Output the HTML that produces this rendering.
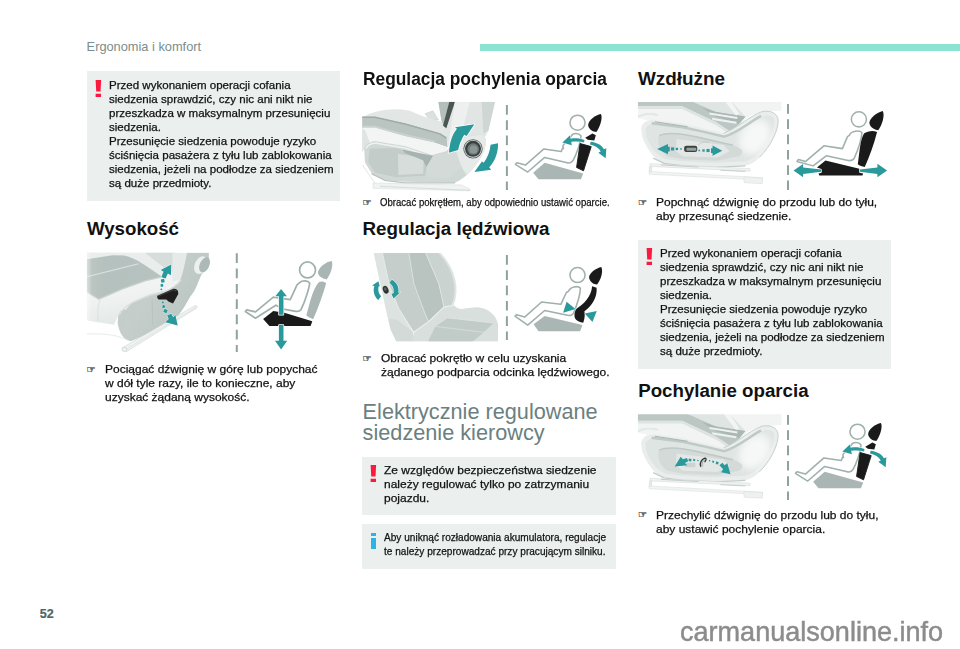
<!DOCTYPE html>
<html lang="pl"><head><meta charset="utf-8"><title>Ergonomia i komfort</title>
<style>
html,body{margin:0;padding:0;background:#fff;}
body{width:960px;height:649px;position:relative;overflow:hidden;font-family:"Liberation Sans",sans-serif;color:#111;}
.abs{position:absolute;}
.bar{left:480px;top:44px;width:480px;height:6.5px;background:#8ae4d1;}
.box{background:#ebefee;}
.t{white-space:nowrap;color:#111;}
.s{-webkit-text-stroke:0.25px currentColor;}
.h2{font-weight:bold;color:#111;}
.h1{color:#6a8080;}
.ex{color:#fb1a3e;font-weight:bold;font-size:24px;line-height:24px;transform-origin:0 0;transform:scaleX(1.6);}
.hand{font-family:"DejaVu Sans",sans-serif;font-size:10.3px;line-height:12px;color:#444;-webkit-text-stroke:0.3px #444;}
.inf i{position:absolute;left:0;top:0;width:5px;height:3.4px;background:#2db4e6;}
.inf b{position:absolute;left:0;top:5.2px;width:5px;height:11.3px;background:#2db4e6;}
</style></head><body>
<div class="abs t " style="left:86.6px;top:39.86px;font-size:12.8px;line-height:14px;color:#7b8d8d;">Ergonomia i komfort</div>
<div class="abs bar"></div>
<div class="abs box" style="left:87px;top:71px;width:253px;height:129.5px;"></div>
<div class="abs ex" style="left:91.9px;top:76.6px;">!</div>
<div class="abs t  s" style="left:108.7px;top:78.07px;font-size:11.053px;line-height:14.0px;transform:scaleX(1.045);transform-origin:0 0;">Przed wykonaniem operacji cofania<br>siedzenia sprawdzić, czy nic ani nikt nie<br>przeszkadza w maksymalnym przesunięciu<br>siedzenia.<br>Przesunięcie siedzenia powoduje ryzyko<br>ściśnięcia pasażera z tyłu lub zablokowania<br>siedzenia, jeżeli na podłodze za siedzeniem<br>są duże przedmioty.</div>
<div class="abs t h2" style="left:86.9px;top:218.12px;font-size:18.7px;line-height:22px;">Wysokość</div>
<svg class="abs" style="left:0;top:0" width="960" height="649" viewBox="0 0 960 649"><defs>
<filter id="b1" x="-5%" y="-5%" width="110%" height="110%"><feGaussianBlur stdDeviation="0.5"/></filter>
<filter id="b2" x="-10%" y="-10%" width="120%" height="120%"><feGaussianBlur stdDeviation="1.2"/></filter>
<filter id="b3" x="-10%" y="-10%" width="120%" height="120%"><feGaussianBlur stdDeviation="2.5"/></filter>
<clipPath id="c2"><rect x="361.6" y="101.7" width="150" height="92"/></clipPath>
<clipPath id="c3"><rect x="368" y="252.9" width="130" height="88.6"/></clipPath>
<clipPath id="c4"><rect x="637.5" y="102" width="145" height="92"/></clipPath>
<clipPath id="c5"><rect x="637.5" y="414.2" width="145" height="92"/></clipPath>
<filter id="b4" x="-30%" y="-30%" width="160%" height="160%"><feGaussianBlur stdDeviation="25"/></filter>
<clipPath id="c1"><rect x="86.8" y="252.5" width="125" height="102"/></clipPath>
<linearGradient id="g1a" x1="0" y1="0" x2="1" y2="0"><stop offset="0" stop-color="#bec8c5"/><stop offset="0.2" stop-color="#b5c1be"/><stop offset="1" stop-color="#b8c3c0"/></linearGradient>
<linearGradient id="g1b" x1="0" y1="0" x2="0.3" y2="1"><stop offset="0" stop-color="#f7f9f8"/><stop offset="0.6" stop-color="#eef1f0"/><stop offset="1" stop-color="#e3e8e6"/></linearGradient>
<linearGradient id="g1c" x1="0" y1="0" x2="1" y2="0.6"><stop offset="0" stop-color="#bec8c5"/><stop offset="0.45" stop-color="#c5cecb"/><stop offset="1" stop-color="#b9c4c1"/></linearGradient>
<linearGradient id="fadeL" x1="0" y1="0" x2="1" y2="0"><stop offset="0" stop-color="#fff" stop-opacity="0.45"/><stop offset="1" stop-color="#fff" stop-opacity="0"/></linearGradient>
</defs>
<g clip-path="url(#c1)"><g filter="url(#b1)"><g transform="translate(80,245) scale(0.16949)"><path d="M40,45 L560,45 L560,175 L477,190 L384,212 L248,260 L111,320 L40,276 Z" fill="url(#g1a)"/><path d="M40,45 L560,45 L560,235 L502,199 L412,139 C380,115 350,98 335,90 C300,72 270,63 259,62 L193,60 L40,84 Z" fill="#e9edeb"/><path d="M384,45 L560,45 L560,165 L502,139 Z" fill="#d6dddb"/><path d="M40,188 L346,111" stroke="#dce2e0" stroke-width="6" fill="none"/><path d="M40,276 L111,320 L248,260 L384,212 L477,190 L560,175 L605,150 L615,190 L502,270 L412,292 L335,324 L270,384 L232,402 L200,470 L40,445 Z" fill="url(#g1b)"/><path d="M40,276 L111,320 L248,260 L384,212 L477,190" stroke="#c9d1ce" stroke-width="8" fill="none" filter="url(#b3)"/><path d="M118,325 C105,360 102,400 108,450" stroke="#dfe5e3" stroke-width="8" fill="none" filter="url(#b3)"/><path d="M545,45 L640,45 L640,150 L592,205 L545,215 Z" fill="#e6ebe9"/><path d="M226,415 C240,385 255,372 270,384 C285,360 310,335 335,324 L412,292 L502,270 C540,255 570,230 592,205 C610,160 620,100 632,45 L760,45 L760,120 C760,140 745,155 722,165 C700,200 690,260 650,305 C620,360 580,430 520,472 L300,568 C260,560 235,530 222,462 Z" fill="url(#g1c)"/><path d="M232,412 C250,375 300,338 337,328 L414,296 L504,274 C542,258 575,232 597,207" stroke="#d9dfdd" stroke-width="8" fill="none" filter="url(#b3)"/><path d="M425,320 L430,470" stroke="#b3bebb" stroke-width="4" fill="none" filter="url(#b3)"/><ellipse cx="713" cy="119" rx="36" ry="55" transform="rotate(25 713 119)" fill="#edf0ef"/><ellipse cx="735" cy="117" rx="28" ry="47" transform="rotate(25 735 117)" fill="#adb9b6"/><path d="M250,606 L680,357 L690,361 L689,372 L276,628 L256,624 Z" fill="#eef1f0" stroke="#c9d1ce" stroke-width="3"/><path d="M268,618 L689,366" stroke="#d6dddb" stroke-width="3" fill="none"/><ellipse cx="262" cy="616" rx="14" ry="12" fill="#f0f3f2" stroke="#bcc7c4" stroke-width="3"/><path d="M40,525 C120,523 200,523 285,562" stroke="#dbe1df" stroke-width="4" fill="none"/><rect x="40" y="45" width="30" height="420" fill="url(#fadeL)"/></g></g><g transform="translate(140,250) scale(0.13870)"><path d="M125,330 L240,280 C255,277 270,285 274,298 L276,318 L238,386 L205,371 L190,356 L135,356 C125,350 122,340 125,330 Z" fill="#1e1e1e"/><path d="M135,332 L240,288 L262,296" stroke="#555" stroke-width="5" fill="none" filter="url(#b3)"/><path d="M149,144 L225,104 L223,182 L201,170 C194,182 189,194 186,205 L154,197 C158,184 163,170 170,157 Z" fill="#fff" stroke="#fff" stroke-width="6" stroke-linejoin="round" opacity="0.8"/><path d="M149,144 L225,104 L223,182 L201,170 C194,182 189,194 186,205 L154,197 C158,184 163,170 170,157 Z" fill="#2a999c"/><rect x="149.5" y="207.5" width="29" height="29" fill="#fff" opacity="0.7" transform="rotate(-10 164 222)"/><rect x="151.5" y="209.5" width="25" height="25" fill="#2a999c" transform="rotate(-10 164 222)"/><rect x="146.5" y="243.5" width="23" height="23" fill="#fff" opacity="0.7" transform="rotate(-10 158 255)"/><rect x="148.5" y="245.5" width="19" height="19" fill="#2a999c" transform="rotate(-10 158 255)"/><rect x="146.0" y="276.0" width="16" height="16" fill="#fff" opacity="0.7" transform="rotate(-10 154 284)"/><rect x="148.0" y="278.0" width="12" height="12" fill="#2a999c" transform="rotate(-10 154 284)"/><rect x="155.0" y="369.0" width="18" height="18" fill="#fff" opacity="0.7" transform="rotate(20 164 378)"/><rect x="157.0" y="371.0" width="14" height="14" fill="#2a999c" transform="rotate(20 164 378)"/><rect x="159.0" y="396.0" width="24" height="24" fill="#fff" opacity="0.7" transform="rotate(20 171 408)"/><rect x="161.0" y="398.0" width="20" height="20" fill="#2a999c" transform="rotate(20 171 408)"/><rect x="169.0" y="425.0" width="30" height="30" fill="#fff" opacity="0.7" transform="rotate(20 184 440)"/><rect x="171.0" y="427.0" width="26" height="26" fill="#2a999c" transform="rotate(20 184 440)"/><path d="M182,521 L207,498 C203,489 199,479 196,471 L227,459 C230,468 234,476 239,484 L255,467 L272,545 Z" fill="#fff" stroke="#fff" stroke-width="6" stroke-linejoin="round" opacity="0.8"/><path d="M182,521 L207,498 C203,489 199,479 196,471 L227,459 C230,468 234,476 239,484 L255,467 L272,545 Z" fill="#2a999c"/></g></g>
<line x1="236.8" y1="253.3" x2="236.8" y2="352" stroke="#8ea39f" stroke-width="2" stroke-dasharray="9.7 5.6" stroke-dashoffset="0"/>
<g transform="translate(225,245) scale(0.16949)"><path d="M548,160 C560,125 600,98 630,95 C640,120 625,170 600,203 C580,200 550,190 548,160 Z" fill="#a9b6b3"/><path d="M555,218 C570,212 585,215 597,225 C575,300 550,370 520,438 C505,432 490,425 480,415 C500,350 515,260 555,218 Z" fill="#a9b6b3"/><path d="M440,222 C455,208 490,208 500,225 C495,260 470,340 448,382 C440,392 425,394 410,390 L345,378 L300,355 L180,432 L120,392 L128,383 L180,395 L285,308 L385,322 L425,235 Z" fill="#fff" stroke="#a0b0ad" stroke-width="10" stroke-linejoin="round"/><circle cx="487" cy="147" r="47" fill="#fff" stroke="#a0b0ad" stroke-width="10"/><path d="M225,436 L285,390 L350,400 L515,450 L505,478 L262,478 Z" fill="#1a1a1a"/><path d="M318,412 L318,302 L297,302 L331,260 L365,302 L345,302 L345,412 Z" fill="#fff" stroke="#fff" stroke-width="8" stroke-linejoin="round"/><path d="M318,412 L318,302 L297,302 L331,260 L365,302 L345,302 L345,412 Z" fill="#2a999c"/><path d="M318,472 L318,565 L295,565 L331,617 L367,565 L345,565 L345,472 Z" fill="#fff" stroke="#fff" stroke-width="8" stroke-linejoin="round"/><path d="M318,472 L318,565 L295,565 L331,617 L367,565 L345,565 L345,472 Z" fill="#2a999c"/></g>
<g clip-path="url(#c2)"><g filter="url(#b1)"><g transform="translate(355,95) scale(0.16667)"><path d="M500,40 L840,40 L800,215 L780,250 L560,305 L520,160 Z" fill="#e1e6e4"/><path d="M500,40 L570,40 L530,185 L518,150 Z" fill="#b4bfbc"/><path d="M566,40 L600,40 L548,200 L528,185 Z" fill="#4c5452"/><path d="M600,40 L690,40 L640,230 L560,290 Z" fill="#edf0ef"/><path d="M760,40 L840,40 L800,215 L770,230 Z" fill="#cfd7d4"/><path d="M420,112 L468,95 L500,150 L452,152 Z" fill="#dbe1df" stroke="#c0cac7" stroke-width="3"/><path d="M45,135 C100,90 250,72 330,95 C400,128 470,150 522,160 L550,260 L505,226 L300,177 L100,137 Z" fill="#e2e7e5"/><path d="M43,130 L120,130 L299,170 L510,229 L550,256 L556,314 L478,287 L299,247 L120,197 L43,197 Z" fill="#bac5c2"/><path d="M43,134 L120,134 L299,174 L510,233 L548,258" stroke="#9fabaa" stroke-width="9" fill="none"/><path d="M43,190 L120,190 L299,240 L478,281" stroke="#cad2d0" stroke-width="12" fill="none" filter="url(#b3)"/><path d="M43,197 L120,197 L299,247 L478,287 L556,314 L545,338 L462,360 L299,306 L122,278 L70,300 L43,345 Z" fill="#f3f5f4"/><path d="M43,200 L43,345 L68,300 L88,284 L62,215 Z" fill="#dfe5e3"/><path d="M55,318 C64,290 95,276 125,277 L299,306 L462,360 L545,338 C600,285 680,232 760,240 C790,250 795,275 772,340 C740,410 680,490 600,527 L300,520 L180,512 L105,478 L60,405 Z" fill="#d0d8d5"/><path d="M66,320 C76,298 102,288 128,289 L299,318 L460,371" stroke="#eff2f1" stroke-width="9" fill="none" filter="url(#b3)"/><path d="M88,322 L240,318 L300,334 L458,374 L430,430 L420,484 L250,494 L122,466 L80,405 Z" fill="#c3ccc9"/><path d="M258,352 L412,378 L410,472 L260,480 Z" fill="#d6dddb"/><path d="M285,328 L468,364 L430,432 L408,392 L298,346 Z" fill="#a6b3b0"/><path d="M430,430 L468,368 L545,345 L600,300 L640,430 L560,500 L430,490 Z" fill="#d3dad8"/><path d="M100,472 L180,512 L300,527 L600,527" stroke="#b9c4c1" stroke-width="8" fill="none" filter="url(#b3)"/><path d="M45,420 L130,545" stroke="#d0d8d5" stroke-width="4" fill="none"/><path d="M108,528 L640,540 L690,565 L690,575 L108,560 Z" fill="#f0f3f2" stroke="#d3dad8" stroke-width="3"/><path d="M150,548 L690,572" stroke="#c9d1ce" stroke-width="4" fill="none"/><path d="M600,300 C640,255 700,235 760,240 C790,250 795,275 772,340 C750,390 715,440 670,480 C640,440 615,380 600,300 Z" fill="#e6ebe9"/><circle cx="708" cy="323" r="58" fill="#5a6260"/><circle cx="708" cy="323" r="53" fill="#d9dfdd"/><circle cx="708" cy="323" r="48" fill="#394140"/><circle cx="709" cy="324" r="35" fill="#6f7a77"/><circle cx="711" cy="327" r="24" fill="#8b9693"/></g></g><g transform="translate(430,98) scale(0.14948)"><path d="M127,366 C130,300 150,240 180,205 L167,196 L297,176 L245,255 L229,246 C215,270 195,310 189,348 Z" fill="#fff" stroke="#fff" stroke-width="10" stroke-linejoin="round"/><path d="M127,366 C130,300 150,240 180,205 L167,196 L297,176 L245,255 L229,246 C215,270 195,310 189,348 Z" fill="#2a999c"/><path d="M405,312 L455,303 C458,350 440,420 396,464 L409,480 L297,495 L347,424 L359,433 C385,400 402,355 405,312 Z" fill="#2a999c"/></g></g>
<line x1="506.9" y1="105" x2="506.9" y2="190" stroke="#8ea39f" stroke-width="2" stroke-dasharray="9.7 5.6" stroke-dashoffset="0"/>
<g transform="translate(500,95) scale(0.15408)"><path d="M215,505 L290,440 L540,510 L525,547 L250,547 Z" fill="#a9b6b3"/><path d="M462,268 C472,245 512,245 526,266 C522,310 495,390 474,425 C466,440 448,444 430,438 L290,405 L180,500 L100,450 L110,440 L165,455 L285,350 L398,366 L406,345 L412,347 L408,330 L440,285 Z" fill="#fff" stroke="#a0b0ad" stroke-width="10" stroke-linejoin="round"/><circle cx="503" cy="180" r="49" fill="#fff" stroke="#a0b0ad" stroke-width="10"/><path d="M572,195 C575,160 620,130 655,123 C668,150 650,205 625,240 C605,240 575,225 572,195 Z" fill="#1a1a1a"/><path d="M553,277 L600,250 L622,262 L612,296 L570,290 Z" fill="#1a1a1a"/><path d="M520,315 L592,335 L542,492 L497,470 Z" fill="#1a1a1a" stroke="#1a1a1a" stroke-width="6" stroke-linejoin="round"/><path d="M405,308 L455,262 L458,284 C490,278 520,282 548,292 L546,308 C520,300 490,300 462,304 L466,326 Z" fill="#fff" stroke="#fff" stroke-width="5" stroke-linejoin="round"/><path d="M405,308 L455,262 L458,284 C490,278 520,282 548,292 L546,308 C520,300 490,300 462,304 L466,326 Z" fill="#2a999c"/><path d="M588,304 C630,308 662,328 674,352 L690,345 L686,410 L638,374 L654,366 C642,346 615,328 584,322 Z" fill="#fff" stroke="#fff" stroke-width="5" stroke-linejoin="round"/><path d="M588,304 C630,308 662,328 674,352 L690,345 L686,410 L638,374 L654,366 C642,346 615,328 584,322 Z" fill="#2a999c"/></g>
<g clip-path="url(#c3)"><g filter="url(#b1)"><g transform="translate(370,250) scale(0.14641)"><path d="M25,20 L85,20 L135,250 L197,400 L290,555 L300,625 L180,625 L140,540 L122,470 L85,300 Z" fill="#dde3e1"/><path d="M127,480 C145,465 180,470 200,490 L290,555 L300,625 L180,625 L142,545 Z" fill="#d3dad8"/><path d="M85,20 L265,20 L300,230 L370,420 L400,490 L300,560 L197,400 L135,250 Z" fill="#c5cecb"/><path d="M265,20 L380,20 L470,230 L505,390 L400,490 L370,420 L300,230 Z" fill="#b9c4c1"/><path d="M380,20 L475,20 C520,70 560,130 575,200 C590,260 585,330 560,385 L505,390 L470,230 Z" fill="#cad3d0"/><path d="M475,20 C520,70 560,130 575,200 C590,260 585,330 560,385" stroke="#dfe5e3" stroke-width="14" fill="none" filter="url(#b2)"/><path d="M265,20 L300,230 L370,420 L400,490" stroke="#dfe5e3" stroke-width="5" fill="none"/><path d="M380,20 L470,230 L505,390" stroke="#e3e8e6" stroke-width="5" fill="none"/><path d="M85,20 L135,250 L197,400 L290,555" stroke="#e9edeb" stroke-width="5" fill="none"/><path d="M300,560 L400,490 L505,390 L573,377 C590,395 610,403 631,403 C650,400 670,396 689,395 C710,390 730,390 747,392 C770,395 790,402 805,412 C825,425 840,438 851,453 C862,470 870,488 874,505 C882,530 886,552 888,626 L285,626 Z" fill="#d9dfdd"/><path d="M533,464 L845,499 C800,540 750,590 700,626 L395,626 L446,522 Z" fill="#c1cbc8"/><path d="M446,522 L782,563" stroke="#dce2e0" stroke-width="5" fill="none"/><path d="M533,464 L845,499" stroke="#e3e8e6" stroke-width="5" fill="none"/><path d="M300,560 L400,490 L505,390 L573,377" stroke="#e9edeb" stroke-width="9" fill="none"/></g></g></g><g transform="translate(365,270) scale(0.06165)"><ellipse cx="335" cy="320" rx="44" ry="66" transform="rotate(-22 335 320)" fill="#2c3230"/><ellipse cx="328" cy="308" rx="22" ry="30" transform="rotate(-22 328 308)" fill="#59615f"/><path d="M115,250 L218,183 L240,268 L222,264 C205,330 225,390 262,425 L215,485 C150,430 125,340 152,258 Z" fill="#fff" stroke="#fff" stroke-width="14" stroke-linejoin="round"/><path d="M115,250 L218,183 L240,268 L222,264 C205,330 225,390 262,425 L215,485 C150,430 125,340 152,258 Z" fill="#2a999c"/><path d="M435,157 C520,200 560,290 540,370 L575,362 L462,462 L428,385 L462,378 C475,310 450,250 395,208 Z" fill="#fff" stroke="#fff" stroke-width="14" stroke-linejoin="round"/><path d="M435,157 C520,200 560,290 540,370 L575,362 L462,462 L428,385 L462,378 C475,310 450,250 395,208 Z" fill="#2a999c"/></g>
<line x1="506.9" y1="255" x2="506.9" y2="340" stroke="#8ea39f" stroke-width="2" stroke-dasharray="9.7 5.6" stroke-dashoffset="0"/>
<g transform="translate(500,245) scale(0.15408)"><path d="M218,515 L290,460 L535,520 L520,560 L250,560 Z" fill="#a9b6b3"/><path d="M445,300 C455,270 505,262 522,280 C520,320 495,400 478,440 C470,455 450,460 430,455 L290,425 L180,520 L97,462 L108,452 L160,468 L270,370 L395,385 L430,310 Z" fill="#fff" stroke="#a0b0ad" stroke-width="10" stroke-linejoin="round"/><circle cx="503" cy="195" r="49" fill="#fff" stroke="#a0b0ad" stroke-width="10"/><path d="M578,210 C580,180 625,150 657,143 C672,170 655,225 630,257 C610,258 580,240 578,210 Z" fill="#1a1a1a"/><path d="M598,268 L627,278 C632,340 600,392 548,430 C552,450 550,480 540,504 C520,502 493,492 485,470 C480,450 486,430 495,415 C540,385 592,340 598,268 Z" fill="#1a1a1a"/><path d="M432,368 L490,415 L410,440 Z" fill="#fff" stroke="#fff" stroke-width="4" stroke-linejoin="round"/><path d="M432,368 L490,415 L410,440 Z" fill="#2a999c"/><path d="M550,445 L628,428 L600,500 Z" fill="#fff" stroke="#fff" stroke-width="4" stroke-linejoin="round"/><path d="M550,445 L628,428 L600,500 Z" fill="#2a999c"/></g>
<g clip-path="url(#c4)"><g filter="url(#b1)"><g transform="translate(636,98) scale(0.15625)"><path d="M12,10 L930,10 L930,80 L800,85 L720,120 L640,190 L560,225 L120,140 L70,142 L12,128 Z" fill="#f1f4f3"/><path d="M332,10 L930,10 L930,80 L800,85 L720,118 L700,118 L513,90 Z" fill="#f1f4f3"/><path d="M332,10 L600,10 L700,118 L513,90 Z" fill="#dfe5e3"/><path d="M12,10 L332,10 L513,90 L700,118 L640,190 L600,212 L513,155 L296,52 L12,52 Z" fill="#bcc7c4"/><path d="M420,60 L513,90 L700,118 L660,165 L513,120 Z" fill="#aab7b4"/><path d="M12,62 L296,62 L513,165 L590,215" stroke="#dde3e1" stroke-width="16" fill="none" filter="url(#b2)"/><path d="M12,120 C60,100 90,95 140,110" stroke="#e3e8e6" stroke-width="14" fill="none" filter="url(#b3)"/><path d="M470,92 L650,122 L648,134 L470,106 Z M485,126 L645,152 L640,164 L490,140 Z" fill="#eef1f0"/><path d="M560,10 L600,10 L660,100 L640,112 Z" fill="#f3f5f4"/><path d="M33,200 C35,155 80,135 125,140 L300,165 L450,200 L560,225 C640,195 715,125 800,88 C850,75 905,90 910,140 C912,200 870,300 790,380 C760,410 730,428 700,432 L500,442 L300,432 L180,416 C120,400 70,330 40,250 Z" fill="#e9edeb"/><path d="M60,205 C65,175 95,160 130,165 L300,188 L450,222 L565,250 C650,225 720,160 805,118 C850,105 885,115 885,150 C885,200 850,290 775,360 C750,385 720,400 695,405 L500,415 L300,405 L195,392 C140,378 95,320 68,250 Z" fill="#dfe5e3"/><ellipse cx="760" cy="250" rx="90" ry="120" transform="rotate(35 760 250)" fill="#f6f8f7" filter="url(#b4)"/><path d="M560,226 C640,196 715,126 800,89 C850,76 905,91 910,141 C912,200 870,300 790,380" stroke="#bcc7c4" stroke-width="5" fill="none" filter="url(#b2)"/><path d="M100,162 L300,187 L450,220 L565,247 C650,222 715,162 800,114" stroke="#bfc9c6" stroke-width="16" fill="none" filter="url(#b3)"/><path d="M120,152 L330,184" stroke="#aab6b3" stroke-width="8" fill="none" filter="url(#b2)"/><path d="M150,240 C200,218 300,228 400,252 L620,302 C680,322 700,345 660,372 L520,402 L300,392 L200,372 C150,342 130,275 150,240 Z" fill="#d3dad8"/><path d="M150,240 C200,218 300,228 400,252 L620,302" stroke="#bfc9c6" stroke-width="10" fill="none" filter="url(#b3)"/><path d="M260,262 L560,300 L600,340 L520,380 L300,372 L255,340 Z" fill="#e3e8e6"/><path d="M110,385 L180,418 L300,434 L500,444 L700,434" stroke="#c3ccc9" stroke-width="8" fill="none" filter="url(#b3)"/><path d="M90,420 L730,452 L730,468 L90,438 Z" fill="#eff2f1" stroke="#d0d7d5" stroke-width="3"/><path d="M85,440 L100,440 L100,480 L85,480 Z" fill="#e6ebe9" stroke="#d0d7d5" stroke-width="3"/><path d="M85,470 L810,510 L810,525 L85,488 Z" fill="#f1f4f3" stroke="#d3dad8" stroke-width="3"/><path d="M160,428 L400,442 M540,462 L700,470" stroke="#b9c4c1" stroke-width="5" fill="none"/><path d="M690,505 L810,512 L808,548 L692,542 Z" fill="#eef1f0" stroke="#d3dad8" stroke-width="3"/></g></g><g transform="translate(636,98) scale(0.15625)"><path d="M400,300 C410,285 440,275 465,285" stroke="#b9c4c1" stroke-width="5" fill="none"/><rect x="308" y="305" width="84" height="40" rx="14" fill="#3c4341"/><rect x="322" y="318" width="64" height="20" rx="8" fill="#97a19e"/><path d="M135,326 L205,294 L205,312 L216,312 L216,342 L205,342 L205,360 Z" fill="#2a999c"/><path d="M552,338 L490,304 L490,322 L480,322 L480,352 L490,352 L490,370 Z" fill="#2a999c"/><rect x="224.0" y="316.0" width="20" height="20" fill="#2a999c"/><rect x="254.5" y="318.5" width="15" height="15" fill="#2a999c"/><rect x="283.0" y="321.0" width="10" height="10" fill="#2a999c"/><rect x="400.0" y="331.0" width="10" height="10" fill="#2a999c"/><rect x="424.5" y="328.5" width="15" height="15" fill="#2a999c"/><rect x="451.0" y="326.0" width="20" height="20" fill="#2a999c"/></g></g>
<line x1="788" y1="104" x2="788" y2="190" stroke="#8ea39f" stroke-width="2" stroke-dasharray="9.7 5.6" stroke-dashoffset="0"/>
<g transform="translate(780,95) scale(0.15408)"><path d="M450,262 C460,235 515,225 532,245 C528,290 500,370 482,410 C474,425 455,428 435,424 L300,395 L215,460 L110,432 L120,418 L165,432 L285,330 L405,348 L438,270 Z" fill="#fff" stroke="#a0b0ad" stroke-width="10" stroke-linejoin="round"/><circle cx="512" cy="158" r="49" fill="#fff" stroke="#a0b0ad" stroke-width="10"/><path d="M580,180 C583,148 630,112 667,104 C682,135 662,195 638,228 C618,228 583,212 580,180 Z" fill="#1a1a1a"/><path d="M545,250 C570,235 600,228 630,240 C610,320 580,400 550,468 C535,465 515,458 505,450 C515,380 520,290 545,250 Z" fill="#1a1a1a"/><path d="M240,470 L295,425 L515,478 L515,505 L540,510 L535,522 L255,522 L250,510 L270,505 L268,480 Z" fill="#1a1a1a"/><path d="M88,490 L150,448 L150,470 L268,484 L268,498 L150,512 L150,534 Z" fill="#fff" stroke="#fff" stroke-width="5" stroke-linejoin="round"/><path d="M88,490 L150,448 L150,470 L268,484 L268,498 L150,512 L150,534 Z" fill="#2a999c"/><path d="M695,490 L632,446 L632,470 L518,484 L518,498 L632,512 L632,534 Z" fill="#fff" stroke="#fff" stroke-width="5" stroke-linejoin="round"/><path d="M695,490 L632,446 L632,470 L518,484 L518,498 L632,512 L632,534 Z" fill="#2a999c"/></g>
<g clip-path="url(#c5)"><g filter="url(#b1)"><g transform="translate(636,412.5) scale(0.15625)"><path d="M12,10 L930,10 L930,80 L800,85 L720,120 L640,190 L560,225 L120,140 L70,142 L12,128 Z" fill="#f1f4f3"/><path d="M332,10 L930,10 L930,80 L800,85 L720,118 L700,118 L513,90 Z" fill="#f1f4f3"/><path d="M332,10 L600,10 L700,118 L513,90 Z" fill="#dfe5e3"/><path d="M12,10 L332,10 L513,90 L700,118 L640,190 L600,212 L513,155 L296,52 L12,52 Z" fill="#bcc7c4"/><path d="M420,60 L513,90 L700,118 L660,165 L513,120 Z" fill="#aab7b4"/><path d="M12,62 L296,62 L513,165 L590,215" stroke="#dde3e1" stroke-width="16" fill="none" filter="url(#b2)"/><path d="M12,120 C60,100 90,95 140,110" stroke="#e3e8e6" stroke-width="14" fill="none" filter="url(#b3)"/><path d="M470,92 L650,122 L648,134 L470,106 Z M485,126 L645,152 L640,164 L490,140 Z" fill="#eef1f0"/><path d="M560,10 L600,10 L660,100 L640,112 Z" fill="#f3f5f4"/><path d="M33,200 C35,155 80,135 125,140 L300,165 L450,200 L560,225 C640,195 715,125 800,88 C850,75 905,90 910,140 C912,200 870,300 790,380 C760,410 730,428 700,432 L500,442 L300,432 L180,416 C120,400 70,330 40,250 Z" fill="#e9edeb"/><path d="M60,205 C65,175 95,160 130,165 L300,188 L450,222 L565,250 C650,225 720,160 805,118 C850,105 885,115 885,150 C885,200 850,290 775,360 C750,385 720,400 695,405 L500,415 L300,405 L195,392 C140,378 95,320 68,250 Z" fill="#dfe5e3"/><ellipse cx="760" cy="250" rx="90" ry="120" transform="rotate(35 760 250)" fill="#f6f8f7" filter="url(#b4)"/><path d="M560,226 C640,196 715,126 800,89 C850,76 905,91 910,141 C912,200 870,300 790,380" stroke="#bcc7c4" stroke-width="5" fill="none" filter="url(#b2)"/><path d="M100,162 L300,187 L450,220 L565,247 C650,222 715,162 800,114" stroke="#bfc9c6" stroke-width="16" fill="none" filter="url(#b3)"/><path d="M120,152 L330,184" stroke="#aab6b3" stroke-width="8" fill="none" filter="url(#b2)"/><path d="M150,240 C200,218 300,228 400,252 L620,302 C680,322 700,345 660,372 L520,402 L300,392 L200,372 C150,342 130,275 150,240 Z" fill="#d3dad8"/><path d="M150,240 C200,218 300,228 400,252 L620,302" stroke="#bfc9c6" stroke-width="10" fill="none" filter="url(#b3)"/><path d="M260,262 L560,300 L600,340 L520,380 L300,372 L255,340 Z" fill="#e3e8e6"/><path d="M110,385 L180,418 L300,434 L500,444 L700,434" stroke="#c3ccc9" stroke-width="8" fill="none" filter="url(#b3)"/><path d="M90,420 L730,452 L730,468 L90,438 Z" fill="#eff2f1" stroke="#d0d7d5" stroke-width="3"/><path d="M85,440 L100,440 L100,480 L85,480 Z" fill="#e6ebe9" stroke="#d0d7d5" stroke-width="3"/><path d="M85,470 L810,510 L810,525 L85,488 Z" fill="#f1f4f3" stroke="#d3dad8" stroke-width="3"/><path d="M160,428 L400,442 M540,462 L700,470" stroke="#b9c4c1" stroke-width="5" fill="none"/><path d="M690,505 L810,512 L808,548 L692,542 Z" fill="#eef1f0" stroke="#d3dad8" stroke-width="3"/></g></g><g transform="translate(665,445) scale(0.08333)"><rect x="240" y="212" width="125" height="55" rx="12" fill="#ccd4d1"/><path d="M440,255 L472,172" stroke="#d9dfdd" stroke-width="44" stroke-linecap="round" fill="none"/><path d="M428,255 C412,215 440,170 480,158 C500,160 492,185 480,200" stroke="#2f3533" stroke-width="16" fill="none" stroke-linecap="round"/><path d="M445,250 C435,220 455,185 478,178" stroke="#8d9794" stroke-width="10" fill="none" stroke-linecap="round"/><path d="M116,258 L188,142 L215,172 L264,156 L278,196 L238,216 L268,244 Z" fill="#2a999c"/><path d="M652,242 L690,212 L714,244 L748,220 L786,350 L674,328 L698,292 Z" fill="#2a999c"/><rect x="284.0" y="164.0" width="32" height="32" fill="#2a999c" transform="rotate(10 300 180)"/><rect x="338.0" y="168.0" width="24" height="24" fill="#2a999c" transform="rotate(10 350 180)"/><rect x="387.0" y="178.0" width="16" height="16" fill="#2a999c" transform="rotate(10 395 186)"/><rect x="527.5" y="182.5" width="15" height="15" fill="#2a999c" transform="rotate(10 535 190)"/><rect x="567.0" y="189.0" width="22" height="22" fill="#2a999c" transform="rotate(10 578 200)"/><rect x="611.0" y="201.0" width="30" height="30" fill="#2a999c" transform="rotate(10 626 216)"/></g></g>
<line x1="788" y1="415" x2="788" y2="500" stroke="#8ea39f" stroke-width="2" stroke-dasharray="9.7 5.6" stroke-dashoffset="0"/>
<g transform="translate(780,404) scale(0.15408)"><path d="M215,505 L290,440 L540,510 L525,547 L250,547 Z" fill="#a9b6b3"/><path d="M462,268 C472,245 512,245 526,266 C522,310 495,390 474,425 C466,440 448,444 430,438 L290,405 L180,500 L100,450 L110,440 L165,455 L285,350 L398,366 L406,345 L412,347 L408,330 L440,285 Z" fill="#fff" stroke="#a0b0ad" stroke-width="10" stroke-linejoin="round"/><circle cx="503" cy="180" r="49" fill="#fff" stroke="#a0b0ad" stroke-width="10"/><path d="M572,195 C575,160 620,130 655,123 C668,150 650,205 625,240 C605,240 575,225 572,195 Z" fill="#1a1a1a"/><path d="M553,277 L600,250 L622,262 L612,296 L570,290 Z" fill="#1a1a1a"/><path d="M520,315 L592,335 L542,492 L497,470 Z" fill="#1a1a1a" stroke="#1a1a1a" stroke-width="6" stroke-linejoin="round"/><path d="M405,308 L455,262 L458,284 C490,278 520,282 548,292 L546,308 C520,300 490,300 462,304 L466,326 Z" fill="#fff" stroke="#fff" stroke-width="5" stroke-linejoin="round"/><path d="M405,308 L455,262 L458,284 C490,278 520,282 548,292 L546,308 C520,300 490,300 462,304 L466,326 Z" fill="#2a999c"/><path d="M588,304 C630,308 662,328 674,352 L690,345 L686,410 L638,374 L654,366 C642,346 615,328 584,322 Z" fill="#fff" stroke="#fff" stroke-width="5" stroke-linejoin="round"/><path d="M588,304 C630,308 662,328 674,352 L690,345 L686,410 L638,374 L654,366 C642,346 615,328 584,322 Z" fill="#2a999c"/></g></svg>
<div class="abs hand" style="left:86.4px;top:362.7px;">☞</div>
<div class="abs t  s" style="left:104.7px;top:362.02px;font-size:11.483px;line-height:14.0px;transform:scaleX(1.045);transform-origin:0 0;">Pociągać dźwignię w górę lub popychać<br>w dół tyle razy, ile to konieczne, aby<br>uzyskać żądaną wysokość.</div>
<div class="abs t h2" style="left:362.6px;top:68.12px;font-size:18.7px;line-height:22px;transform:scaleX(0.928);transform-origin:0 0;">Regulacja pochylenia oparcia</div>

<div class="abs hand" style="left:362.4px;top:196.0px;">☞</div>
<div class="abs t  s" style="left:380.3px;top:195.32px;font-size:11.483px;line-height:14.0px;transform:scaleX(0.836);transform-origin:0 0;">Obracać pokrętłem, aby odpowiednio ustawić oparcie.</div>
<div class="abs t h2" style="left:362.5px;top:218.39px;font-size:18.8px;line-height:22px;">Regulacja lędźwiowa</div>

<div class="abs hand" style="left:362.4px;top:351.7px;">☞</div>
<div class="abs t  s" style="left:380.8px;top:351.02px;font-size:11.483px;line-height:14.0px;transform:scaleX(1.045);transform-origin:0 0;">Obracać pokrętło w celu uzyskania<br>żądanego podparcia odcinka lędźwiowego.</div>
<div class="abs t h1" style="left:362.6px;top:402.28px;font-size:21.7px;line-height:20.8px;">Elektrycznie regulowane<br>siedzenie kierowcy</div>
<div class="abs box" style="left:361.8px;top:456.6px;width:254px;height:58.4px;"></div>
<div class="abs ex" style="left:367.1px;top:461.7px;">!</div>
<div class="abs t  s" style="left:384.3px;top:462.55px;font-size:11.483px;line-height:14.15px;transform:scaleX(1.045);transform-origin:0 0;">Ze względów bezpieczeństwa siedzenie<br>należy regulować tylko po zatrzymaniu<br>pojazdu.</div>
<div class="abs box" style="left:361.8px;top:524.4px;width:254px;height:44.4px;"></div>
<div class="abs inf" style="left:371.2px;top:533px;"><i></i><b></b></div>
<div class="abs t  s" style="left:384.2px;top:530.97px;font-size:11.053px;line-height:13.6px;transform:scaleX(0.9133);transform-origin:0 0;">Aby uniknąć rozładowania akumulatora, regulacje<br>te należy przeprowadzać przy pracującym silniku.</div>
<div class="abs t h2" style="left:638.0px;top:68.05px;font-size:18.9px;line-height:22px;">Wzdłużne</div>

<div class="abs hand" style="left:637.9px;top:196.1px;">☞</div>
<div class="abs t  s" style="left:655.8px;top:195.42px;font-size:11.483px;line-height:14.0px;transform:scaleX(1.045);transform-origin:0 0;">Popchnąć dźwignię do przodu lub do tyłu,<br>aby przesunąć siedzenie.</div>
<div class="abs box" style="left:638px;top:239.5px;width:253px;height:129.5px;"></div>
<div class="abs ex" style="left:642.9px;top:244.9px;">!</div>
<div class="abs t  s" style="left:660.3px;top:246.27px;font-size:11.053px;line-height:14.0px;transform:scaleX(1.045);transform-origin:0 0;">Przed wykonaniem operacji cofania<br>siedzenia sprawdzić, czy nic ani nikt nie<br>przeszkadza w maksymalnym przesunięciu<br>siedzenia.<br>Przesunięcie siedzenia powoduje ryzyko<br>ściśnięcia pasażera z tyłu lub zablokowania<br>siedzenia, jeżeli na podłodze za siedzeniem<br>są duże przedmioty.</div>
<div class="abs t h2" style="left:638.2px;top:380.12px;font-size:18.7px;line-height:22px;">Pochylanie oparcia</div>

<div class="abs hand" style="left:637.9px;top:508.2px;">☞</div>
<div class="abs t  s" style="left:655.8px;top:507.52px;font-size:11.483px;line-height:14.0px;transform:scaleX(1.045);transform-origin:0 0;">Przechylić dźwignię do przodu lub do tyłu,<br>aby ustawić pochylenie oparcia.</div>
<div class="abs t " style="left:39.7px;top:607.07px;font-size:12.5px;line-height:14px;color:#4f6668;font-weight:bold;-webkit-text-stroke:0.2px #4f6668;">52</div>
<div class="abs t " style="left:680px;top:613.62px;font-size:28.5px;line-height:34px;transform:scaleX(0.949);transform-origin:0 0;color:#8c8c8c;-webkit-text-stroke:0.5px #8c8c8c;">carmanualsonline.info</div>
</body></html>
